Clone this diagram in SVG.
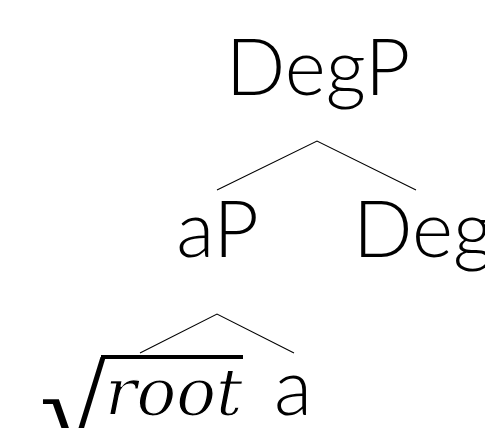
<svg xmlns="http://www.w3.org/2000/svg" width="485" height="428" viewBox="0 0 485 428">
<style>
.lbl{font-family:Lato,"Noto Sans",sans-serif;font-weight:300;font-size:78.5px;fill:#000}
.edge{stroke:#000;stroke-width:1.1;fill:none}
</style>
<rect width="485" height="428" fill="#fff"/>
<g id="edges">
<path class="edge" d="M217,190 L317,141 L416,190"/>
<path class="edge" d="M140,353 L217,314 L294,353"/>
</g>
<g id="DegP"><text class="lbl" x="318" y="95" text-anchor="middle">DegP</text></g>
<g id="aP"><text class="lbl" x="217.5" y="257" text-anchor="middle">aP</text></g>
<g id="Deg"><text class="lbl" x="353" y="257">Deg</text></g>
<g id="root">
<text x="40" y="452" style="font-family:'Liberation Serif',serif;font-size:120px">√</text>
<rect x="101" y="355" width="142" height="4" fill="#000"/>
<text x="105" y="415" stroke="#fff" stroke-width="1.2" style="font-family:'DejaVu Serif',serif;font-style:italic;font-size:66px">root</text>
</g>
<g id="a"><text class="lbl" x="274" y="415">a</text></g>
</svg>
